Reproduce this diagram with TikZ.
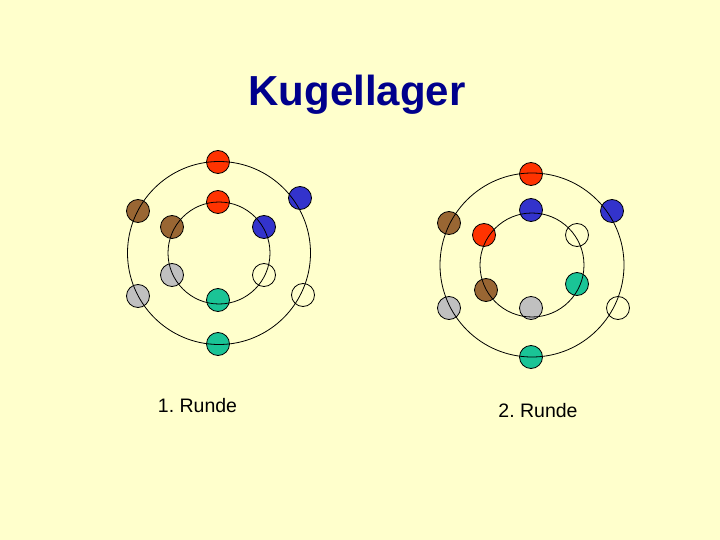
\documentclass[tikz,border=0pt]{standalone}
\usepackage{fontspec}
\setmainfont{Liberation Sans}
\usetikzlibrary{positioning}
\definecolor{paper}{RGB}{255,255,204}
\definecolor{titleblue}{RGB}{0,0,140}
\definecolor{ballred}{RGB}{255,51,0}
\definecolor{ballblue}{RGB}{51,51,204}
\definecolor{ballbrown}{RGB}{153,102,51}
\definecolor{ballgray}{RGB}{192,192,192}
\definecolor{ballgreen}{RGB}{26,196,150}
\frenchspacing
\tikzset{
  ball/.style={circle,draw=black,line width=0.8pt,minimum size=23pt,inner sep=0pt},
  ring/.style={draw=black,line width=0.8pt}
}
\begin{document}
\begin{tikzpicture}[x=1pt,y=-1pt]
  \fill[paper] (0,0) rectangle (720,540);
  \useasboundingbox (0,0) rectangle (720,540);
  \node[titleblue,font=\bfseries\fontsize{42}{48}\selectfont] (title) at (357,95) {Kugellager};
  % 1. Runde
  \begin{scope}
    \coordinate (cA) at (219,253);
    \foreach \x/\y/\c/\n in {218/162/ballred/oa1, 300/198/ballblue/oa2, 303/295/paper/oa3,
        218/344/ballgreen/oa4, 138/296/ballgray/oa5, 138/211/ballbrown/oa6,
        218/202/ballred/ia1, 264/227/ballblue/ia2, 264/275/paper/ia3,
        218/300/ballgreen/ia4, 172/275/ballgray/ia5, 172/227/ballbrown/ia6}
      \node[ball,fill=\c] (\n) at (\x,\y) {};
    \draw[ring] (cA) circle (91.5);
    \draw[ring] (cA) circle (51);
    \node[font=\fontsize{19.5}{23}\selectfont] (runde1) at (197.5,406) {1. Runde};
  \end{scope}
  % 2. Runde
  \begin{scope}
    \coordinate (cB) at (532,265);
    \foreach \x/\y/\c/\n in {531/174/ballred/ob1, 612/211/ballblue/ob2, 618/308/paper/ob3,
        531/357/ballgreen/ob4, 449/308/ballgray/ob5, 449/223/ballbrown/ob6,
        531/210/ballblue/ib1, 577/235/paper/ib2, 577/284/ballgreen/ib3,
        531/308/ballgray/ib4, 486/290/ballbrown/ib5, 484/235/ballred/ib6}
      \node[ball,fill=\c] (\n) at (\x,\y) {};
    \draw[ring] (cB) circle (92);
    \draw[ring] (cB) circle (52);
    \node[font=\fontsize{19.5}{23}\selectfont] (runde2) at (538,411) {2. Runde};
  \end{scope}
\end{tikzpicture}
\end{document}
